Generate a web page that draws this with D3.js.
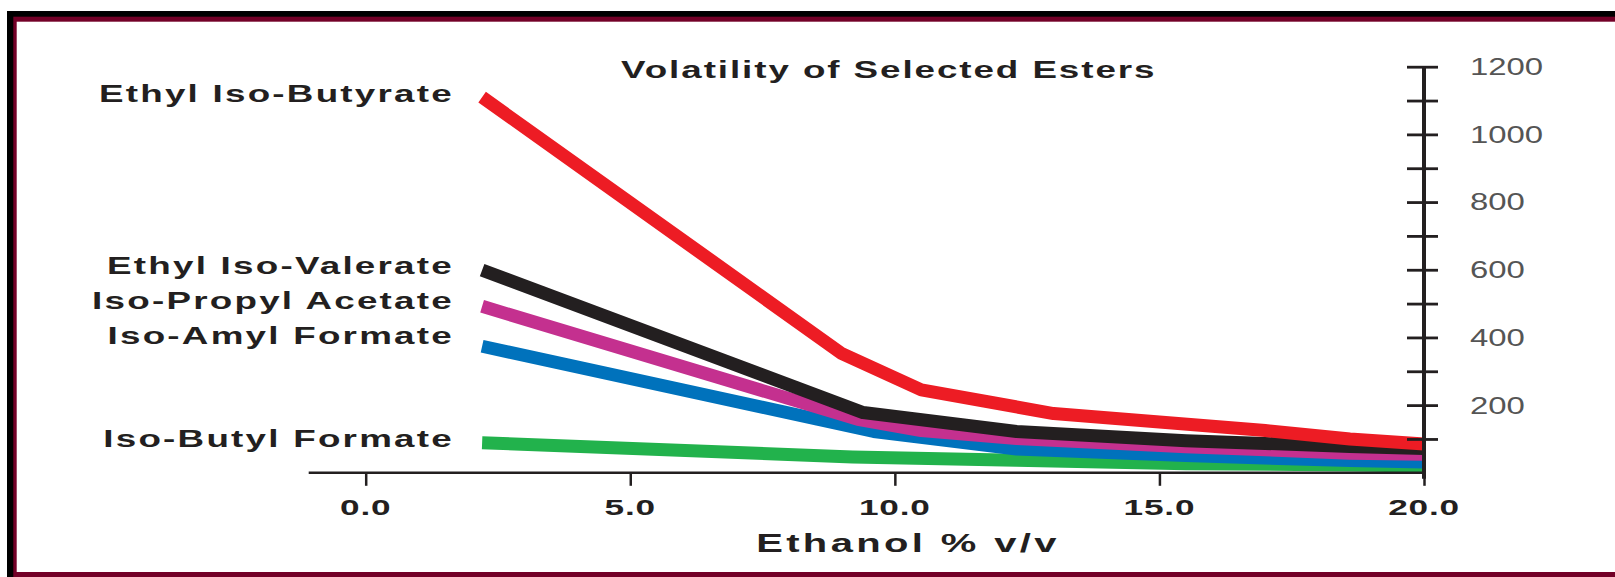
<!DOCTYPE html>
<html>
<head>
<meta charset="utf-8">
<script src="https://cdn.jsdelivr.net/npm/d3@7"></script>
<style>
  html, body { margin: 0; padding: 0; background: #fff; }
  svg { display: block; }
</style>
</head>
<body>
<svg id="chart" width="1615" height="577"></svg>
<script>
// ---------------- data ----------------
const chartTitle = "Volatility of Selected Esters";
const xAxisTitle = "Ethanol % v/v";
const xTickValues = [0, 5, 10, 15, 20];
const yTickMarks = [100, 200, 300, 400, 500, 600, 700, 800, 900, 1000, 1100, 1200];
const yTickLabels = [200, 400, 600, 800, 1000, 1200];

const seriesNames = ["Ethyl Iso-Butyrate", "Ethyl Iso-Valerate", "Iso-Propyl Acetate", "Iso-Amyl Formate", "Iso-Butyl Formate"];
const ethylIsoButyrate = [[2.2, 1110], [9.0, 352], [10.5, 245], [13.0, 175], [15.0, 150], [17.0, 125], [18.6, 100], [20.0, 85]];
const ethylIsoValerate = [[2.2, 599], [9.4, 178], [12.3, 122], [15.5, 95], [18.6, 78], [20.0, 72]];
const isoPropylAcetate = [[2.2, 492], [9.3, 158], [10.5, 125], [12.3, 101], [15.5, 77], [18.6, 58], [20.0, 55]];
const isoAmylFormate = [[2.2, 374], [9.6, 122], [12.3, 70], [15.5, 51], [18.6, 36], [20.0, 32]];
const isoButylFormate = [[2.2, 89], [9.2, 47], [12.3, 37], [15.5, 27], [18.6, 23], [20.0, 20]];
const seriesColors = ["#ed1c24", "#231f20", "#c4308f", "#0072bc", "#22b24c"];

// ---------------- layout ----------------
const svg = d3.select("#chart");
const FONT = "'Liberation Sans', Arial, Helvetica, sans-serif";
const labelDy = [5, 4, 3, -2, 4];

// frame
svg.append("rect").attr("x", 7).attr("y", 11).attr("width", 1700).attr("height", 700).attr("fill", "#000");
svg.append("rect").attr("x", 13.3).attr("y", 16.7).attr("width", 1700).attr("height", 700).attr("fill", "#730027");
svg.append("rect").attr("x", 16.7).attr("y", 21.7).attr("width", 1700).attr("height", 572 - 21.7).attr("fill", "#fff");

const x = d3.scaleLinear().domain([0, 20]).range([365.7, 1424]);
const y = d3.scaleLinear().domain([0, 1200]).range([472.8, 66.7]);

function stext(g, px, py, str, o) {
  return g.append("text")
    .attr("transform", `translate(${px},${py}) scale(${o.sx || 1.6},1)`)
    .attr("text-anchor", o.anchor || "start")
    .style("font-family", FONT)
    .style("font-size", o.size + "px")
    .style("font-weight", o.weight || 700)
    .style("letter-spacing", (o.ls || 0) + "px")
    .attr("fill", o.fill || "#231f20")
    .text(str);
}

// lines
const seriesData = [ethylIsoButyrate, ethylIsoValerate, isoPropylAcetate, isoAmylFormate, isoButylFormate];
const line = d3.line().x(d => x(d[0])).y(d => y(d[1])).curve(d3.curveLinear);
const drawOrder = [4, 3, 2, 1, 0];
drawOrder.forEach(i => {
  svg.append("path")
    .datum(seriesData[i])
    .attr("d", line)
    .attr("fill", "none")
    .attr("stroke", seriesColors[i])
    .attr("stroke-width", 13)
    .attr("stroke-linejoin", "round")
    .attr("stroke-linecap", "butt");
});

// series labels (right aligned, near each line start)
seriesData.forEach((s, i) => {
  stext(svg, 454, y(s[0][1]) + labelDy[i], seriesNames[i], { anchor: "end", size: 23, ls: 1.4 });
});

// x axis
const xAxis = d3.axisBottom(x).tickValues(xTickValues).tickSize(13).tickFormat("");
const gx = svg.append("g").attr("transform", `translate(0,${y(0)})`).call(xAxis);
gx.select(".domain").remove();
gx.selectAll(".tick line").attr("stroke", "#231f20").attr("stroke-width", 2.5);
svg.append("line")
  .attr("x1", x(0) - 57).attr("x2", x(20))
  .attr("y1", y(0)).attr("y2", y(0))
  .attr("stroke", "#231f20").attr("stroke-width", 2.5);
xTickValues.forEach(v => {
  stext(svg, x(v), 515, d3.format(".1f")(v), { anchor: "middle", size: 22, ls: 0.5 });
});
stext(svg, 908, 552, xAxisTitle, { anchor: "middle", size: 25, ls: 2.1 });

// y axis (right side)
const yAxis = d3.axisRight(y).tickValues(yTickMarks).tickSize(14).tickFormat("");
const gy = svg.append("g").attr("transform", `translate(${x(20)},0)`).call(yAxis);
gy.select(".domain").remove();
gy.selectAll(".tick line").attr("x1", -17).attr("stroke", "#231f20").attr("stroke-width", 2.8);
svg.append("line")
  .attr("x1", x(20)).attr("x2", x(20))
  .attr("y1", y(1200)).attr("y2", y(0) + 6)
  .attr("stroke", "#231f20").attr("stroke-width", 4);
yTickLabels.forEach(v => {
  stext(svg, 1470, y(v) + 8.4, String(v), { anchor: "start", size: 23.5, weight: 400, fill: "#555", sx: 1.4 });
});

// title
stext(svg, 621, 78.3, chartTitle, { anchor: "start", size: 23, ls: 1.2 });
</script>
</body>
</html>
